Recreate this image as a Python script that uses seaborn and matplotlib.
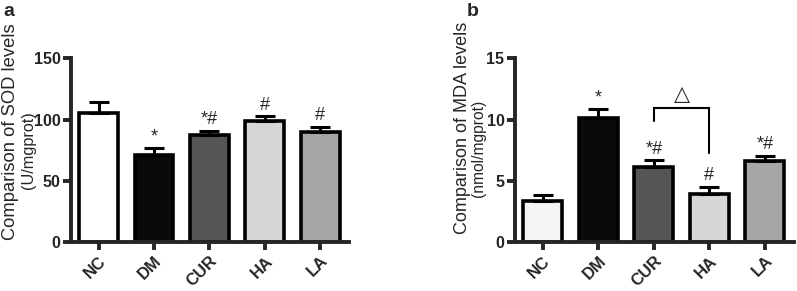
import matplotlib
matplotlib.use("Agg")
import matplotlib.pyplot as plt
import seaborn as sns
import pandas as pd

groups = ["NC", "DM", "CUR", "HA", "LA"]
sod_mean = [105, 71, 87, 99, 90]
sod_err = [9, 6, 4, 3.5, 4]
sod_marks = ["", "*", "*#", "#", "#"]
sod_ticks = [0, 50, 100, 150]
mda_mean = [3.35, 10.1, 6.1, 3.9, 6.6]
mda_err = [0.5, 0.75, 0.6, 0.6, 0.45]
mda_marks = ["", "*", "*#", "#", "*#"]
mda_ticks = [0, 5, 10, 15]

colors_a = ["#ffffff", "#0a0a0a", "#555555", "#d6d6d6", "#a6a6a6"]
colors_b = ["#f4f4f4", "#0a0a0a", "#555555", "#d6d6d6", "#a6a6a6"]

sns.set_theme(style="ticks")
plt.rcParams['font.family'] = ['Liberation Sans', 'DejaVu Sans']
plt.rcParams['font.weight'] = 'bold'

fig = plt.figure(figsize=(7.97, 2.91), dpi=100)
ax1 = fig.add_axes([0.089, 0.168, 0.349, 0.632])
ax2 = fig.add_axes([0.646, 0.168, 0.350, 0.632])

def panel(ax, means, errs, marks, colors, ticks, off):
    df = pd.DataFrame({"group": groups, "value": means})
    sns.barplot(data=df, x="group", y="value", hue="group", palette=colors,
                legend=False, ax=ax, width=0.7, edgecolor="black", linewidth=2.6,
                saturation=1)
    ax.errorbar(range(len(groups)), means, yerr=[[0]*len(errs), errs], fmt="none",
                ecolor="black", elinewidth=2.2, capsize=7.5, capthick=2.2, zorder=1)
    for i, (m, e, t) in enumerate(zip(means, errs, marks)):
        if t:
            ax.text(i, m + e + off, t, ha="center", va="bottom", fontsize=13,
                    fontweight="normal")
    ax.set_xlim(-0.5, 4.52)
    ax.set_ylim(0, ticks[-1])
    ax.set_yticks(ticks, labels=[str(t) for t in ticks], fontweight="heavy", fontsize=11.5)
    ax.set_xticks(range(len(groups)), labels=groups, fontweight="heavy", fontsize=12,
                  rotation=45, ha="right", rotation_mode="anchor")
    ax.set_xlabel("")
    ax.set_ylabel("")
    for s in ["top", "right"]:
        ax.spines[s].set_visible(False)
    for s in ["left", "bottom"]:
        ax.spines[s].set_linewidth(2.8)
    ax.tick_params(axis="both", width=2.8, length=6, pad=1.5)
    ax.tick_params(axis="x", pad=2)
    ax.set_facecolor("white")

panel(ax1, sod_mean, sod_err, sod_marks, colors_a, sod_ticks, 2)
panel(ax2, mda_mean, mda_err, mda_marks, colors_b, mda_ticks, 0.2)

# y-axis titles (two lines each), sized to the reference lengths
fig.canvas.draw()
renderer = fig.canvas.get_renderer()
def ytitle(ax, txt, x, y, target_px, size0):
    t = ax.text(x, y, txt, transform=ax.transAxes, rotation=90, ha="center",
                va="center", fontsize=size0, fontweight="normal")
    bb = t.get_window_extent(renderer)
    t.set_fontsize(size0 * target_px / bb.height)
    return t

ytitle(ax1, "Comparison of SOD levels", -0.218, 0.60, 216, 13)
ytitle(ax1, "(U/mgprot)", -0.152, 0.50, 78, 12)
ytitle(ax2, "Comparison of MDA levels", -0.186, 0.62, 212, 13)
ytitle(ax2, "(nmol/mgprot)", -0.129, 0.51, 98, 12)

# bracket CUR vs HA
ax2.plot([2, 2, 3, 3], [9.9, 10.95, 10.95, 7.25], color="black", lw=1.5, solid_joinstyle="miter")
ax2.text(2.5, 11.3, "△", ha="center", va="bottom", fontsize=15, family="DejaVu Sans",
         fontweight="normal")

fig.text(0.004, 0.99, "a", fontsize=14, fontweight="heavy", va="top")
fig.text(0.586, 0.99, "b", fontsize=14, fontweight="heavy", va="top")

fig.savefig("out.png", dpi=100, facecolor="white")
